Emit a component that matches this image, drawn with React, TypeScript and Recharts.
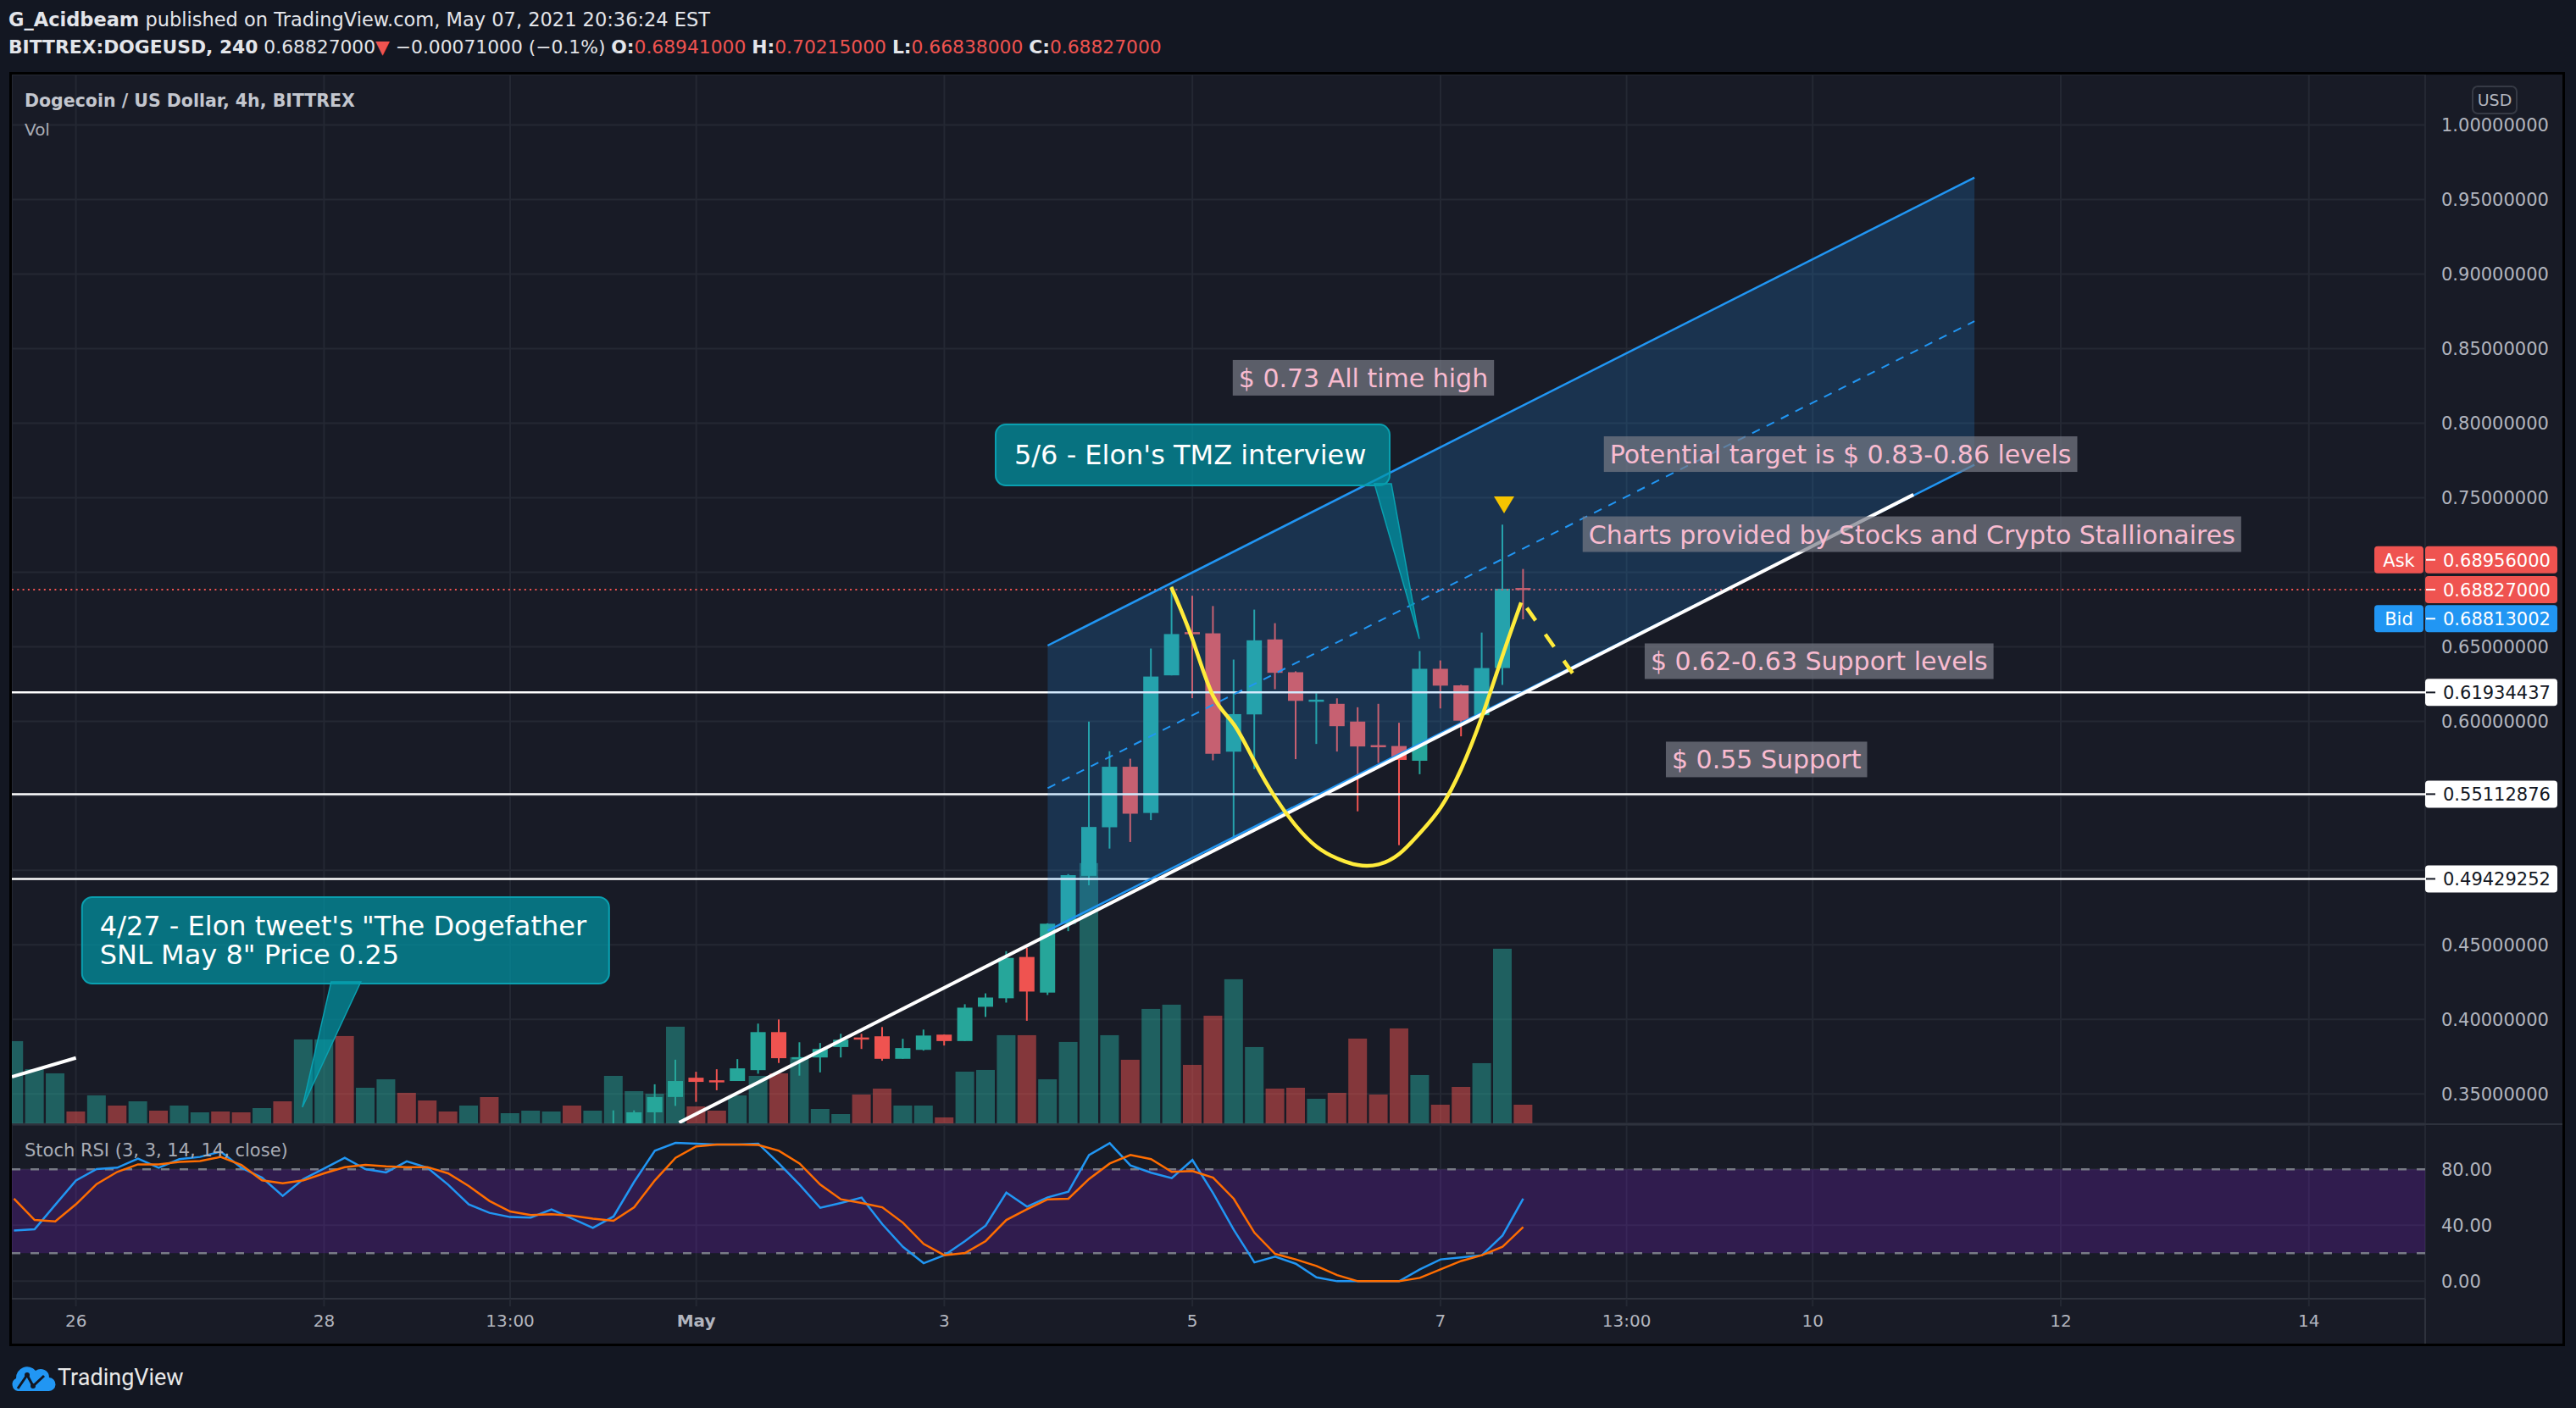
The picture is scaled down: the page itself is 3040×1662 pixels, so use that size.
import React from 'react';
import {
  ComposedChart, Bar, Line, Area, XAxis, YAxis, CartesianGrid,
  ReferenceLine, ReferenceDot, ReferenceArea,
} from 'recharts';

// time axis: hours from May 1 00:00, one bar every 4h
const FIRST_BAR = -132;
const OHLC_FIRST = -16;
const BAR_STEP = 4;

const volume = [97, 64, 59, 14, 33, 21, 26, 15, 21, 13, 14, 13, 18, 26, 99, 99, 103, 42, 52, 36, 27, 14, 21, 31, 12, 15, 14, 21, 15, 56, 38, 35, 114, 20, 15, 33, 56, 59, 78, 17, 11, 34, 41, 21, 21, 7, 61, 63, 104, 104, 52, 96, 307, 104, 75, 135, 140, 69, 127, 170, 90, 41, 42, 29, 36, 100, 34, 112, 57, 22, 43, 71, 206, 22];
const volumeUp = [1, 1, 1, 0, 1, 0, 1, 0, 1, 1, 0, 0, 1, 0, 1, 1, 0, 1, 1, 0, 0, 0, 1, 0, 1, 1, 1, 0, 1, 1, 1, 1, 1, 0, 0, 1, 1, 0, 1, 1, 1, 0, 0, 1, 1, 0, 1, 1, 1, 0, 1, 1, 1, 1, 0, 1, 1, 0, 0, 1, 1, 0, 0, 1, 0, 0, 0, 0, 1, 0, 0, 1, 1, 0];

const opens = [0.322, 0.326, 0.3377, 0.348, 0.3609, 0.3592, 0.3587, 0.366, 0.3915, 0.3738, 0.3745, 0.3815, 0.3879, 0.3887, 0.3736, 0.3796, 0.3898, 0.3855, 0.4085, 0.4142, 0.4419, 0.418, 0.4642, 0.4963, 0.5289, 0.5695, 0.5385, 0.6308, 0.6598, 0.659, 0.5796, 0.6046, 0.6549, 0.6329, 0.614, 0.6117, 0.5998, 0.584, 0.5834, 0.5735, 0.6352, 0.6241, 0.6041, 0.6357, 0.68941];
const highs = [0.339, 0.339, 0.3565, 0.373, 0.3649, 0.3666, 0.3734, 0.3972, 0.4, 0.3847, 0.3842, 0.3904, 0.3904, 0.3949, 0.387, 0.3932, 0.3898, 0.4102, 0.4175, 0.4458, 0.4481, 0.4645, 0.4975, 0.5998, 0.5799, 0.5749, 0.6488, 0.6904, 0.6842, 0.6773, 0.6414, 0.6749, 0.6658, 0.6335, 0.6188, 0.6154, 0.6094, 0.6117, 0.599, 0.6471, 0.6408, 0.6245, 0.6595, 0.7319, 0.70215];
const lows = [0.318, 0.322, 0.329, 0.342, 0.3447, 0.3525, 0.3587, 0.3636, 0.3708, 0.3623, 0.3645, 0.3745, 0.3802, 0.3723, 0.3736, 0.3791, 0.3825, 0.3855, 0.4017, 0.4113, 0.3991, 0.4164, 0.4592, 0.49, 0.5146, 0.519, 0.5337, 0.6308, 0.6155, 0.5738, 0.5215, 0.5679, 0.6215, 0.5746, 0.5848, 0.5797, 0.5396, 0.5721, 0.5169, 0.5645, 0.6086, 0.5899, 0.603, 0.6244, 0.66838];
const closes = [0.329, 0.3377, 0.3479, 0.3587, 0.3581, 0.3585, 0.3672, 0.3915, 0.374, 0.3747, 0.3802, 0.3864, 0.3874, 0.3736, 0.3808, 0.3892, 0.3855, 0.4079, 0.4147, 0.4413, 0.4187, 0.4642, 0.4968, 0.5291, 0.5695, 0.538, 0.63, 0.6585, 0.659, 0.5782, 0.6048, 0.6543, 0.6325, 0.6137, 0.6145, 0.5967, 0.5831, 0.5834, 0.5741, 0.6352, 0.6239, 0.6004, 0.6357, 0.6889, 0.68827];

const stochK = [36.2, 37.2, 54.7, 72.1, 80.2, 81.2, 87.7, 81.2, 87.3, 88.9, 92.7, 81.2, 74.1, 61.0, 73.1, 80.6, 88.3, 80.2, 77.8, 85.7, 81.2, 69.1, 54.9, 48.9, 45.9, 45.5, 51.3, 44.8, 38.2, 46.3, 71.1, 93.3, 99.0, 98.4, 97.8, 97.8, 98.4, 84.2, 69.1, 52.5, 56.0, 59.8, 40.8, 24.6, 12.9, 18.6, 28.7, 39.8, 63.4, 53.3, 60.0, 64.0, 90.3, 98.8, 82.8, 77.6, 73.7, 86.7, 63.0, 36.8, 13.5, 17.6, 12.5, 2.8, 0, 0, 0, 0, 8.5, 15.6, 17.0, 18.6, 32.7, 59.0];
const stochD = [59.0, 43.8, 42.8, 55.0, 69.5, 78.2, 83.6, 83.6, 85.3, 85.9, 88.9, 83.2, 72.1, 70.1, 72.1, 77.2, 81.6, 83.2, 82.2, 81.6, 81.6, 77.2, 68.1, 57.4, 49.9, 47.3, 47.9, 46.9, 44.8, 43.2, 52.9, 72.1, 88.3, 96.4, 97.8, 97.8, 97.4, 93.3, 84.2, 69.1, 58.6, 56.0, 52.9, 41.8, 26.7, 18.6, 20.2, 28.7, 43.8, 51.5, 58.6, 59.0, 73.1, 84.2, 90.3, 87.3, 78.2, 78.8, 74.1, 59.0, 34.7, 19.6, 15.6, 10.9, 4.4, 0, 0, 0, 2.4, 8.5, 14.5, 18.6, 24.6, 38.8];

const xTicks = [-120, -72, -36, 0, 48, 96, 144, 180, 216, 264, 312];
const xTickLabels = ['26', '28', '13:00', 'May', '3', '5', '7', '13:00', '10', '12', '14'];
const priceTicks = [0.35, 0.4, 0.45, 0.5, 0.55, 0.6, 0.65, 0.7, 0.75, 0.8, 0.85, 0.9, 0.95, 1.0];
const coveredPriceTicks = [0.5, 0.55, 0.7];
const stochTicks = [0, 40, 80];

// drawings
const levels = [0.61934437, 0.55112876, 0.49429252];
const askPrice = 0.68956;
const bidPrice = 0.68813002;
const trendMain = [{ t: -3.3, p: 0.3308 }, { t: 235.5, p: 0.752 }];
const trendLeft = [{ t: -132.4, p: 0.3615 }, { t: -120, p: 0.3742 }];
const channelT = [68, 247.3];
const channelLow = [0.4595, 0.772];
const channelHigh = [0.6508, 0.9647];
const cupT = [91.9, 96, 100, 104, 108, 112, 116, 120, 124, 128, 132, 136, 140, 144, 148, 152, 156, 159.6];
const cupP = [0.69, 0.655, 0.617, 0.598, 0.573, 0.549, 0.53, 0.516, 0.508, 0.5036, 0.504, 0.511, 0.525, 0.542, 0.568, 0.603, 0.644, 0.6796];
const projection = [{ t: 160.7, p: 0.676 }, { t: 170, p: 0.63 }];
const marker = { t: 156.3, p: 0.7451 };
const notes = [
  { t: 103.8, p: 0.8304, text: '$ 0.73 All time high' },
  { t: 175.6, p: 0.7792, text: 'Potential target is $ 0.83-0.86 levels' },
  { t: 171.5, p: 0.7255, text: 'Charts provided by Stocks and Crypto Stallionaires' },
  { t: 183.5, p: 0.6403, text: '$ 0.62-0.63 Support levels' },
  { t: 187.6, p: 0.5744, text: '$ 0.55 Support' },
];
const calloutTmz = { t: 139.9, p: 0.6553, lines: ["5/6 - Elon's TMZ interview"] };
const calloutTweet = { t: -76.2, p: 0.3411, lines: ['4/27 - Elon tweet\'s "The Dogefather', 'SNL May 8" Price 0.25'] };

// rows
const bars = volume.map((v, i) => ({ t: FIRST_BAR + BAR_STEP * i, vol: v, up: volumeUp[i] === 1 }));
const candles = opens.map((o, i) => ({
  t: OHLC_FIRST + BAR_STEP * i, o, h: highs[i], l: lows[i], c: closes[i], range: [lows[i], highs[i]],
}));
const stochRows = stochK.map((k, i) => ({ t: FIRST_BAR + BAR_STEP * i, k, d: stochD[i] }));
const channelBand = channelT.map((t, i) => ({ t, band: [channelLow[i], channelHigh[i]] }));
const channelLowRows = channelT.map((t, i) => ({ t, p: channelLow[i] }));
const channelHighRows = channelT.map((t, i) => ({ t, p: channelHigh[i] }));
const channelMidRows = channelT.map((t, i) => ({ t, p: (channelLow[i] + channelHigh[i]) / 2 }));
const cupRows = cupT.map((t, i) => ({ t, p: cupP[i] }));
const last = candles[candles.length - 1];

// layout
const PANE_LEFT = 14;
const PANE_TOP = 88;
const CHART_W = 3010;
const AXIS_W = 162;
const MAIN_H = 1238;
const STOCH_TOP = 1328;
const STOCH_H = 258;
const XAXIS_H = 53;
const X_DOMAIN: [number, number] = [-132.4, 334.5];
const PRICE_DOMAIN: [number, number] = [0.3303, 1.0338];
const STOCH_DOMAIN: [number, number] = [-12.5, 111.7];
const VOL_HEADROOM = 4.03;

const BG = '#131722';
const PANE_BG = '#181b26';
const GRID = '#242833';
const SEP = '#2e323d';
const AXIS_TEXT = '#b2b5be';
const UP = '#26a69a';
const DOWN = '#ef5350';
const VOL_UP = 'rgba(38,166,154,0.5)';
const VOL_DOWN = 'rgba(239,83,80,0.5)';
const BLUE = '#2196f3';
const YELLOW = '#ffeb3b';
const UI = "'DejaVu Sans', Verdana, sans-serif";
const BRAND = "Roboto, 'Liberation Sans', sans-serif";
const NOTE_SIZE = 30;
const NOTE_PAD = 7;
const NOTE_H = 42;
const CALLOUT_SIZE = 32;

let measureCtx: CanvasRenderingContext2D | null = null;
const textWidth = (s: string, font: string) => {
  if (!measureCtx && typeof document !== 'undefined') measureCtx = document.createElement('canvas').getContext('2d');
  if (!measureCtx) return s.length * NOTE_SIZE * 0.55;
  measureCtx.font = font;
  return measureCtx.measureText(s).width;
};

const Candle = (props: any) => {
  const { x, y, width, height, payload } = props;
  if (!payload || !isFinite(y) || !isFinite(height)) return null;
  const top = Math.min(y, y + height);
  const bot = Math.max(y, y + height);
  const { o, h, l, c } = payload;
  const span = h - l || 1;
  const py = (v: number) => top + ((h - v) / span) * (bot - top);
  const color = c >= o ? UP : DOWN;
  const cx = x + width / 2;
  const bTop = py(Math.max(o, c));
  const bBot = py(Math.min(o, c));
  return (
    <g>
      <line x1={cx} x2={cx} y1={top} y2={bot} stroke={color} strokeWidth={2} />
      <rect x={x} y={bTop} width={width} height={Math.max(2.5, bBot - bTop)} fill={color} />
    </g>
  );
};

const VolBar = (props: any) => {
  const { x, y, width, height, payload } = props;
  if (!isFinite(y) || !isFinite(height)) return null;
  return <rect x={x} y={y} width={width} height={Math.max(0, height)} fill={payload.up ? VOL_UP : VOL_DOWN} />;
};

const PriceTick = (props: any) => {
  const { x, y, payload } = props;
  if (coveredPriceTicks.includes(payload.value)) return null;
  return (
    <text x={x + 11} y={y} dy={8} fill={AXIS_TEXT} fontSize={21} fontFamily={UI} textAnchor="start">
      {payload.value.toFixed(8)}
    </text>
  );
};

const StochTick = (props: any) => {
  const { x, y, payload } = props;
  return (
    <text x={x + 11} y={y} dy={8} fill={AXIS_TEXT} fontSize={21} fontFamily={UI} textAnchor="start">
      {payload.value.toFixed(2)}
    </text>
  );
};

const TimeTick = (props: any) => {
  const { x, y, payload } = props;
  const label = xTickLabels[xTicks.indexOf(payload.value)];
  return (
    <text x={x} y={y} dy={22} fill={AXIS_TEXT} fontSize={20} fontFamily={UI} textAnchor="middle" fontWeight={label === 'May' ? 700 : 400}>
      {label}
    </text>
  );
};

const noteShape = (text: string) => (props: any) => {
  const { cx, cy } = props;
  const w = textWidth(text, `${NOTE_SIZE}px 'DejaVu Sans'`) + NOTE_PAD * 2;
  return (
    <g>
      <rect x={cx} y={cy - NOTE_H / 2} width={w} height={NOTE_H} fill="rgba(120,123,134,0.7)" />
      <text x={cx + NOTE_PAD} y={cy} dy={11} fill="#f8bbd0" fontSize={NOTE_SIZE} fontFamily={UI}>{text}</text>
    </g>
  );
};

type CalloutGeom = { bx: number; by: number; bw: number; bh: number; p1: number; p2: number; tx: number; ty: number; lh: number };
const TMZ_GEOM: CalloutGeom = { bx: -500, by: -253, bw: 465, bh: 72, p1: -53, p2: -33, tx: -478, ty: -217, lh: 34 };
const TWEET_GEOM: CalloutGeom = { bx: -260, by: -248, bw: 622, bh: 102, p1: 34, p2: 69, tx: -239, ty: -214, lh: 34 };

const calloutShape = (lines: string[], g: CalloutGeom) => (props: any) => {
  const { cx, cy } = props;
  const baseY = cy + g.by + g.bh - 2;
  return (
    <g>
      <rect x={cx + g.bx} y={cy + g.by} width={g.bw} height={g.bh} rx={12} fill="rgba(0,151,167,0.7)" stroke="#0aa0b0" strokeWidth={2} />
      <polygon points={`${cx + g.p1},${baseY} ${cx + g.p2},${baseY} ${cx},${cy}`} fill="rgba(0,151,167,0.7)" stroke="#0aa0b0" strokeWidth={1.5} />
      {lines.map((s, i) => (
        <text key={i} x={cx + g.tx} y={cy + g.ty + i * g.lh} dy={11} fill="#ffffff" fontSize={CALLOUT_SIZE} fontFamily={UI}>{s}</text>
      ))}
    </g>
  );
};

const TAG_W = 156;
const TAG_H = 32;
const axisTag = (value: number, bg: string, fg: string, nudge: number, side?: string) => (props: any) => {
  const { cx } = props;
  const cy = props.cy + nudge;
  return (
    <g>
      {side && (
        <g>
          <rect x={cx - 60} y={cy - TAG_H / 2} width={58} height={TAG_H} rx={4} fill={bg} />
          <text x={cx - 31} y={cy} dy={8} textAnchor="middle" fill={fg} fontSize={21} fontFamily={UI}>{side}</text>
        </g>
      )}
      <rect x={cx} y={cy - TAG_H / 2} width={TAG_W} height={TAG_H} rx={4} fill={bg} />
      <line x1={cx + 1} x2={cx + 12} y1={cy} y2={cy} stroke={fg} strokeWidth={2} />
      <text x={cx + 21} y={cy} dy={8} fill={fg} fontSize={21} fontFamily={UI}>{value.toFixed(8)}</text>
    </g>
  );
};

const Layer: React.FC<{ data?: any[]; children: React.ReactNode }> = ({ data, children }) => (
  <div style={{ position: 'absolute', left: PANE_LEFT, top: PANE_TOP }}>
    <ComposedChart width={CHART_W} height={MAIN_H} data={data} margin={{ top: 0, right: AXIS_W, bottom: 0, left: 0 }}>
      <XAxis type="number" dataKey="t" domain={X_DOMAIN} allowDataOverflow hide />
      <YAxis type="number" domain={PRICE_DOMAIN} allowDataOverflow hide />
      {children}
    </ComposedChart>
  </div>
);

const Logo = () => (
  <svg width={54} height={34} viewBox="0 0 54 34" style={{ position: 'absolute', left: 12, top: 1609 }}>
    <path d="M9 33 A8 8 0 0 1 7 18 A13 13 0 0 1 30 9 A10 10 0 0 1 46 17 A8 8 0 0 1 45 33 Z" fill="#2196f3" />
    <polyline points="9,30 20,14 27,27 40,15" fill="none" stroke="#131722" strokeWidth={3} />
    <circle cx={27} cy={27} r={3} fill="#131722" />
    <circle cx={20} cy={14} r={3} fill="#131722" />
  </svg>
);

export default function App() {
  const red = { color: DOWN };
  return (
    <div style={{ position: 'relative', width: 3040, height: 1662, background: BG, overflow: 'hidden', fontFamily: UI }}>
      <style>{'body{margin:0;background:#131722}'}</style>
      <div style={{ position: 'absolute', left: 10, top: 8, fontSize: 22.5, lineHeight: '30px', color: '#e3e5ea', whiteSpace: 'nowrap' }}>
        <b>G_Acidbeam</b> published on TradingView.com, May 07, 2021 20:36:24 EST
      </div>
      <div style={{ position: 'absolute', left: 10, top: 41, fontSize: 21.8, lineHeight: '30px', color: '#e3e5ea', whiteSpace: 'nowrap' }}>
        <b>BITTREX:DOGEUSD, 240</b> {last.c.toFixed(8)}<span style={red}>▼</span> −0.00071000 (−0.1%) <b>O:</b><span style={red}>{last.o.toFixed(8)}</span> <b>H:</b><span style={red}>{last.h.toFixed(8)}</span> <b>L:</b><span style={red}>{last.l.toFixed(8)}</span> <b>C:</b><span style={red}>{last.c.toFixed(8)}</span>
      </div>

      <div style={{ position: 'absolute', left: 11, top: 85, width: 3016, height: 1504, border: '3px solid #000', boxSizing: 'border-box', background: PANE_BG }} />
      <div style={{ position: 'absolute', left: 14, top: 1326, width: 3010, height: 2, background: SEP }} />
      <div style={{ position: 'absolute', left: 2861, top: 88, width: 2, height: 1498, background: SEP }} />

      {/* base layer: grid, volume, price axis */}
      <div style={{ position: 'absolute', left: PANE_LEFT, top: PANE_TOP }}>
        <ComposedChart width={CHART_W} height={MAIN_H} data={bars} margin={{ top: 0, right: 0, bottom: 0, left: 0 }}>
          <XAxis type="number" dataKey="t" domain={X_DOMAIN} ticks={xTicks} allowDataOverflow hide />
          <YAxis yAxisId="price" orientation="right" type="number" domain={PRICE_DOMAIN} ticks={priceTicks} interval={0}
            width={AXIS_W} axisLine={false} tickLine={false} tick={<PriceTick />} allowDataOverflow />
          <YAxis yAxisId="vol" hide type="number" domain={[0, (m: number) => m * VOL_HEADROOM]} />
          <CartesianGrid yAxisId="price" stroke={GRID} strokeWidth={2} />
          <Bar yAxisId="vol" dataKey="vol" barSize={22} shape={VolBar} isAnimationActive={false} />
        </ComposedChart>
      </div>

      <Layer data={candles}>
        <Bar dataKey="range" barSize={18} shape={Candle} isAnimationActive={false} />
      </Layer>

      <Layer>
        {levels.map((v) => (
          <ReferenceLine key={v} y={v} stroke="#ffffff" strokeWidth={2.5} />
        ))}
        <ReferenceLine y={last.c} stroke={DOWN} strokeWidth={2} strokeDasharray="2 4.3" />
      </Layer>

      <Layer>
        <Area data={channelBand} dataKey="band" type="linear" stroke="none" fill={BLUE} fillOpacity={0.2} isAnimationActive={false} />
        <Line data={channelHighRows} dataKey="p" type="linear" stroke={BLUE} strokeWidth={2.5} dot={false} isAnimationActive={false} />
        <Line data={channelLowRows} dataKey="p" type="linear" stroke={BLUE} strokeWidth={2.5} dot={false} isAnimationActive={false} />
        <Line data={channelMidRows} dataKey="p" type="linear" stroke={BLUE} strokeWidth={2} strokeDasharray="10 9" dot={false} isAnimationActive={false} />
      </Layer>

      <Layer>
        <Line data={trendLeft} dataKey="p" type="linear" stroke="#ffffff" strokeWidth={4} dot={false} isAnimationActive={false} />
        <Line data={trendMain} dataKey="p" type="linear" stroke="#ffffff" strokeWidth={4} dot={false} isAnimationActive={false} />
        <Line data={cupRows} dataKey="p" type="natural" stroke={YELLOW} strokeWidth={4.5} dot={false} isAnimationActive={false} />
        <Line data={projection} dataKey="p" type="linear" stroke={YELLOW} strokeWidth={4.5} strokeDasharray="18 20" dot={false} isAnimationActive={false} />
        <ReferenceDot x={marker.t} y={marker.p} ifOverflow="visible"
          shape={(p: any) => <polygon points={`${p.cx - 12},${p.cy - 10} ${p.cx + 12},${p.cy - 10} ${p.cx},${p.cy + 10}`} fill="#f5c400" />} />
      </Layer>

      <Layer>
        {notes.map((n) => (
          <ReferenceDot key={n.text} x={n.t} y={n.p} ifOverflow="visible" shape={noteShape(n.text)} />
        ))}
        <ReferenceDot x={calloutTmz.t} y={calloutTmz.p} ifOverflow="visible" shape={calloutShape(calloutTmz.lines, TMZ_GEOM)} />
        <ReferenceDot x={calloutTweet.t} y={calloutTweet.p} ifOverflow="visible" shape={calloutShape(calloutTweet.lines, TWEET_GEOM)} />
        {levels.map((v) => (
          <ReferenceDot key={v} x={X_DOMAIN[1]} y={v} ifOverflow="visible" shape={axisTag(v, '#ffffff', '#131722', 0)} />
        ))}
        <ReferenceDot x={X_DOMAIN[1]} y={askPrice} ifOverflow="visible" shape={axisTag(askPrice, DOWN, '#ffffff', -33, 'Ask')} />
        <ReferenceDot x={X_DOMAIN[1]} y={last.c} ifOverflow="visible" shape={axisTag(last.c, DOWN, '#ffffff', 0)} />
        <ReferenceDot x={X_DOMAIN[1]} y={bidPrice} ifOverflow="visible" shape={axisTag(bidPrice, BLUE, '#ffffff', 34, 'Bid')} />
      </Layer>

      {/* Stoch RSI pane + time axis */}
      <div style={{ position: 'absolute', left: PANE_LEFT, top: STOCH_TOP }}>
        <ComposedChart width={CHART_W} height={STOCH_H} data={stochRows} margin={{ top: 0, right: 0, bottom: 0, left: 0 }}>
          <XAxis type="number" dataKey="t" domain={X_DOMAIN} ticks={xTicks} interval={0} allowDataOverflow height={XAXIS_H}
            axisLine={{ stroke: SEP, strokeWidth: 2 }} tickLine={{ stroke: GRID, strokeWidth: 2 }} tickSize={9} tick={<TimeTick />} />
          <YAxis orientation="right" type="number" domain={STOCH_DOMAIN} ticks={stochTicks} interval={0} width={AXIS_W}
            axisLine={false} tickLine={false} tick={<StochTick />} allowDataOverflow />
          <CartesianGrid stroke={GRID} strokeWidth={2} />
          <ReferenceArea y1={20} y2={80} fill="rgb(120,30,200)" fillOpacity={0.25} stroke="none" />
          <ReferenceLine y={80} stroke="#787b86" strokeWidth={2.5} strokeDasharray="10 12" />
          <ReferenceLine y={20} stroke="#787b86" strokeWidth={2.5} strokeDasharray="10 12" />
          <Line dataKey="k" type="linear" stroke={BLUE} strokeWidth={2.5} dot={false} isAnimationActive={false} />
          <Line dataKey="d" type="linear" stroke="#ff6d00" strokeWidth={2.5} dot={false} isAnimationActive={false} />
        </ComposedChart>
      </div>

      <div style={{ position: 'absolute', left: 29, top: 107, fontSize: 20.5, fontWeight: 700, color: '#c3c6ce', whiteSpace: 'nowrap' }}>
        Dogecoin / US Dollar, 4h, BITTREX
      </div>
      <div style={{ position: 'absolute', left: 29, top: 141, fontSize: 20, color: '#a9acb5' }}>Vol</div>
      <div style={{ position: 'absolute', left: 29, top: 1346, fontSize: 21, color: '#a9acb5', whiteSpace: 'nowrap' }}>
        Stoch RSI (3, 3, 14, 14, close)
      </div>
      <div style={{ position: 'absolute', left: 2917, top: 101, width: 54, height: 34, border: '2px solid #363a45', borderRadius: 7, boxSizing: 'border-box',
        color: AXIS_TEXT, fontSize: 19, textAlign: 'center', lineHeight: '30px', background: PANE_BG }}>USD</div>

      <Logo />
      <div style={{ position: 'absolute', left: 68, top: 1610, fontSize: 27, color: '#e8e8e8', fontFamily: BRAND }}>TradingView</div>
    </div>
  );
}
